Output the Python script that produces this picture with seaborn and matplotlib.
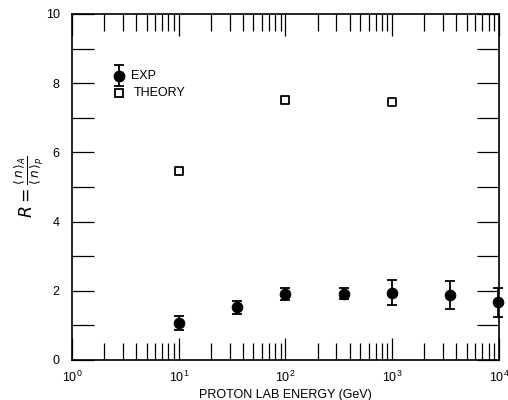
import numpy as np
import pandas as pd
import matplotlib
matplotlib.use('Agg')
import matplotlib.pyplot as plt
import seaborn as sns
from matplotlib.ticker import LogLocator, MultipleLocator, NullFormatter

# data
exp_energy = [10, 35, 100, 350, 1000, 3500, 9800]
exp_r = [1.07, 1.52, 1.90, 1.91, 1.95, 1.87, 1.67]
exp_err = [0.19, 0.19, 0.17, 0.16, 0.35, 0.40, 0.42]

theory_energy = [10, 100, 1000]
theory_r = [5.45, 7.52, 7.47]

df_exp = pd.DataFrame({'E': exp_energy, 'R': exp_r, 'err': exp_err})
df_th = pd.DataFrame({'E': theory_energy, 'R': theory_r})

sns.set_style('ticks')
plt.rcParams['font.family'] = ['Liberation Sans', 'DejaVu Sans']
plt.rcParams['mathtext.fontset'] = 'dejavusans'
plt.rcParams['text.color'] = 'black'
plt.rcParams['axes.labelcolor'] = 'black'
plt.rcParams['xtick.labelcolor'] = 'black'
plt.rcParams['ytick.labelcolor'] = 'black'

fig = plt.figure(figsize=(5.08, 4.0), dpi=100)
ax = fig.add_axes([0.142, 0.1, 0.840, 0.865])

ax.errorbar(df_exp['E'], df_exp['R'], yerr=df_exp['err'], fmt='none',
            ecolor='black', elinewidth=1.3, capsize=3.5, capthick=1.3,
            clip_on=False)
sns.scatterplot(data=df_exp, x='E', y='R', ax=ax, marker='o', s=60,
                color='black', edgecolor='black', label='EXP', legend=False,
                clip_on=False, zorder=3)
sns.scatterplot(data=df_th, x='E', y='R', ax=ax, marker='s', s=34,
                facecolor='white', edgecolor='black', linewidth=1.3,
                label='THEORY', legend=False, zorder=3)

# legend built by hand like the original
ax.errorbar([2.75], [8.22], yerr=[0.3], fmt='o', color='black', ms=7.5,
            capsize=3.5, elinewidth=1.3, capthick=1.3)
ax.plot([2.75], [7.71], marker='s', ms=6, mfc='white', mec='black', mew=1.3)
ax.text(3.6, 8.22, 'EXP', fontsize=9, va='center')
ax.text(3.75, 7.71, 'THEORY', fontsize=9, va='center')

ax.set_xscale('log')
ax.set_xlim(1, 1e4)
ax.set_ylim(0, 10)
ax.xaxis.set_major_locator(LogLocator(base=10, numticks=10))
ax.xaxis.set_minor_locator(LogLocator(base=10, subs=np.arange(2, 10), numticks=20))
ax.xaxis.set_minor_formatter(NullFormatter())
ax.yaxis.set_major_locator(MultipleLocator(2))
ax.yaxis.set_minor_locator(MultipleLocator(1))

ax.tick_params(axis='both', which='both', direction='in', top=True, right=True,
               labelsize=9, width=0.9, color='black')
ax.tick_params(axis='x', which='major', length=16, pad=7)
ax.tick_params(axis='x', which='minor', length=12)
ax.tick_params(axis='y', which='both', length=16, pad=9)
for sp in ax.spines.values():
    sp.set_linewidth(1.2)
    sp.set_color('black')

ax.set_xlabel('PROTON LAB ENERGY (GeV)', fontsize=9, labelpad=3)
ax.set_ylabel(r'$R=\frac{\langle\, n\,\rangle_A}{\langle\, n\,\rangle_p}$',
              fontsize=12.5, labelpad=0)

fig.savefig('out.png', dpi=100)
